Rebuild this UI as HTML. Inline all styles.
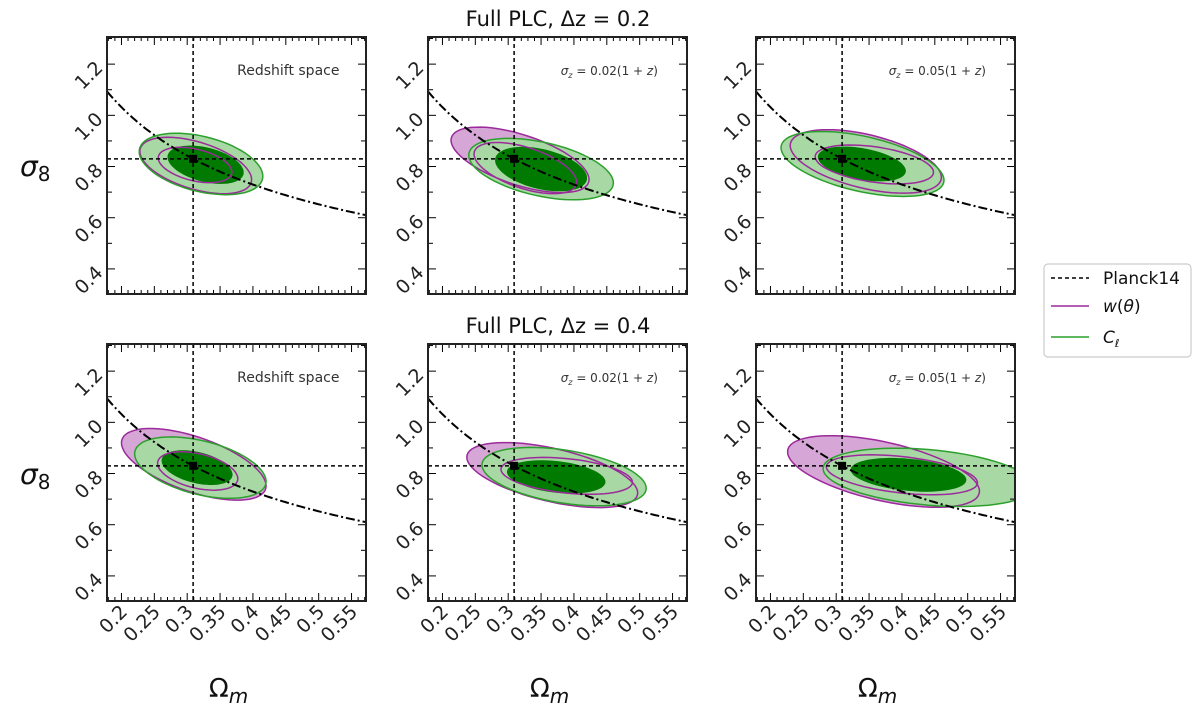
<!DOCTYPE html>
<html><head><meta charset="utf-8">
<style>
html,body{margin:0;padding:0;background:#fff;}
body{width:1200px;height:722px;overflow:hidden;font-family:"Liberation Sans","DejaVu Sans",sans-serif;}
svg text{font-family:"DejaVu Sans","Liberation Sans",sans-serif;}
</style></head>
<body>
<svg id="chart" width="1200" height="722" viewBox="0 0 1200 722"></svg>
<script>
const xDomain = [0.178, 0.572];
const yDomain = [0.302, 1.306];
const xTickLabels = ["0.2","0.25","0.3","0.35","0.4","0.45","0.5","0.55"];
const xTickValues = [0.2,0.25,0.3,0.35,0.4,0.45,0.5,0.55];
const yTickLabels = ["0.4","0.6","0.8","1.0","1.2"];
const yTickValues = [0.4,0.6,0.8,1.0,1.2];
const planckOm = 0.309;
const planckS8 = 0.83;
const degeneracyExponent = -0.5;
const panelLabels = ["Redshift space","σz = 0.02(1 + z)","σz = 0.05(1 + z)","Redshift space","σz = 0.02(1 + z)","σz = 0.05(1 + z)"];
// contour ellipses: [centerOm, centerS8, halfWidthOm, halfHeightS8, correlation]
const wthetaOuter = [[0.313,0.804,0.085,0.110,-0.5],[0.318,0.826,0.105,0.128,-0.6],[0.345,0.820,0.115,0.124,-0.5],[0.310,0.836,0.110,0.140,-0.6],[0.367,0.794,0.130,0.127,-0.55],[0.372,0.808,0.146,0.140,-0.55]];
const wthetaInner = [[0.312,0.806,0.056,0.069,-0.4],[0.326,0.794,0.078,0.100,-0.55],[0.358,0.808,0.090,0.076,-0.4],[0.316,0.810,0.061,0.075,-0.4],[0.389,0.791,0.100,0.072,-0.35],[0.400,0.795,0.115,0.078,-0.4]];
const clOuter = [[0.321,0.810,0.094,0.120,-0.4],[0.350,0.790,0.110,0.120,-0.45],[0.340,0.810,0.124,0.127,-0.5],[0.320,0.823,0.100,0.120,-0.45],[0.385,0.788,0.125,0.114,-0.4],[0.440,0.785,0.160,0.114,-0.3]];
const clInner = [[0.328,0.807,0.058,0.075,-0.4],[0.350,0.790,0.070,0.087,-0.4],[0.339,0.810,0.067,0.068,-0.4],[0.315,0.823,0.054,0.068,-0.4],[0.373,0.787,0.075,0.065,-0.3],[0.410,0.795,0.088,0.066,-0.3]];

const NS="http://www.w3.org/2000/svg";
const svg=document.getElementById('chart');
const colsX=[107,428,756], rowsY=[37,344], PW=259, PH=257;
function mk(tag,attrs,parent){const e=document.createElementNS(NS,tag);for(const k in attrs)e.setAttribute(k,attrs[k]);(parent||svg).appendChild(e);return e;}

const clip=mk('defs',{});
for(let p=0;p<6;p++){
  const r=Math.floor(p/3),c=p%3;
  const x0=colsX[c],y0=rowsY[r];
  const cp=mk('clipPath',{id:'cp'+p},clip);
  mk('rect',{x:x0,y:y0,width:PW,height:PH},cp);
  const sx=v=>x0+(v-xDomain[0])/(xDomain[1]-xDomain[0])*PW;
  const sy=v=>y0+(yDomain[1]-v)/(yDomain[1]-yDomain[0])*PH;
  const g=mk('g',{});
  
  
  const inner=mk('g',{'clip-path':'url(#cp'+p+')'},g);
  function ell(e){let d='';for(let i=0;i<=72;i++){const t=i/72*2*Math.PI;const om=e[0]+e[2]*Math.cos(t);const s=e[1]+e[3]*(e[4]*Math.cos(t)+Math.sqrt(1-e[4]*e[4])*Math.sin(t));d+=(i?'L':'M')+sx(om).toFixed(1)+','+sy(s).toFixed(1);}return d+'Z';}
  let el;
  el=mk('path',{d:ell(wthetaOuter[p]),fill:'#d6a6d6'},inner);
  
  el=mk('path',{d:ell(wthetaInner[p]),fill:'#a040a0'},inner);
  
  el=mk('path',{d:ell(clOuter[p]),fill:'#a8d8a4'},inner);
  
  el=mk('path',{d:ell(clInner[p]),fill:'#007a00'},inner);
  
  el=mk('path',{d:ell(wthetaOuter[p]),fill:'none',stroke:'#9b2a9b','stroke-width':1.5},inner);
  
  el=mk('path',{d:ell(wthetaInner[p]),fill:'none',stroke:'#9b2a9b','stroke-width':1.5},inner);
  
  el=mk('path',{d:ell(clOuter[p]),fill:'none',stroke:'#2ca02c','stroke-width':1.5},inner);
  
  let d='';for(let i=0;i<=80;i++){const om=xDomain[0]+(xDomain[1]-xDomain[0])*i/80;const s=planckS8*Math.pow(om/planckOm,degeneracyExponent);d+=(i?'L':'M')+sx(om).toFixed(1)+','+sy(s).toFixed(1);}
  el=mk('path',{d:d,fill:'none',stroke:'#000','stroke-width':2,'stroke-dasharray':'9,3,2,3'},inner);
  
  el=mk('line',{x1:sx(planckOm),x2:sx(planckOm),y1:y0,y2:y0+PH,stroke:'#000','stroke-width':1.5,'stroke-dasharray':'4,3'},inner);
  
  el=mk('line',{x1:x0,x2:x0+PW,y1:sy(planckS8),y2:sy(planckS8),stroke:'#000','stroke-width':1.5,'stroke-dasharray':'4,3'},inner);
  
  el=mk('rect',{x:sx(planckOm)-4,y:sy(planckS8)-4,width:8,height:8,fill:'#000'},inner);
  
  for(let v=0.18;v<=0.5701;v+=0.01){const vv=Math.round(v*100)/100;const major=Math.abs(vv*20-Math.round(vv*20))<1e-6;const L=major?8:4;const X=sx(vv);
    mk('line',{x1:X,x2:X,y1:y0+PH,y2:y0+PH-L,stroke:'#000','stroke-width':1},g);
    mk('line',{x1:X,x2:X,y1:y0,y2:y0+L,stroke:'#000','stroke-width':1},g);}
  for(let v=0.4;v<=1.3001;v+=0.1){const vv=Math.round(v*10)/10;const major=Math.abs(vv*5-Math.round(vv*5))<1e-6;const L=major?8:5;const Y=sy(vv);
    mk('line',{x1:x0,x2:x0+L,y1:Y,y2:Y,stroke:'#000','stroke-width':1},g);
    mk('line',{x1:x0+PW,x2:x0+PW-L,y1:Y,y2:Y,stroke:'#000','stroke-width':1},g);}
  el=mk('rect',{x:x0,y:y0,width:PW,height:PH,fill:'none',stroke:'#222','stroke-width':2},g);
  
  yTickValues.forEach((v,i)=>{const Y=sy(v);const t=mk('text',{x:x0-8,y:Y+7,'font-size':19,'text-anchor':'end',fill:'#222',transform:'rotate(-45 '+(x0-8)+' '+Y+')'},g);t.textContent=yTickLabels[i];
    });
  if(r===1){xTickValues.forEach((v,i)=>{const X=sx(v)+7,Y=y0+PH+12;const t=mk('text',{x:X,y:Y,'font-size':19,'text-anchor':'end',fill:'#222',transform:'rotate(-45 '+X+' '+Y+')'},g);t.textContent=xTickLabels[i];
    });
    const t=mk('text',{x:x0+PW/2-8,y:697,'font-size':26,'text-anchor':'middle',fill:'#111'},g);
    t.innerHTML='Ω<tspan font-style="italic" font-size="20" dy="6">m</tspan>';
    }
  const a=mk('text',{x:x0+PW*0.70,y:y0+38,'font-size':c===0?14:12,'text-anchor':'middle',fill:'#333'},g);
  if(c===0)a.textContent=panelLabels[p];
  else a.innerHTML='<tspan font-style="italic">σ</tspan><tspan font-size="8" font-style="italic" dy="3">z</tspan><tspan dy="-3"> = '+panelLabels[p].split('= ')[1].replace('z)','')+'</tspan><tspan font-style="italic">z</tspan>)';
  
}
[176,484].forEach(Y=>{const t=mk('text',{x:20,y:Y,'font-size':28,fill:'#111'});t.innerHTML='<tspan font-style="italic">σ</tspan><tspan font-size="20" dy="5">8</tspan>';
  });
[['Full PLC, Δz = 0.2',26],['Full PLC, Δz = 0.4',333]].forEach(q=>{const t=mk('text',{x:558,y:q[1],'font-size':21,'text-anchor':'middle',fill:'#111'});t.textContent=q[0];
  });
const lg=mk('g',{});

mk('rect',{x:1044,y:264,width:147,height:93,rx:4,fill:'#fff',stroke:'#ccc','stroke-width':1.2},lg);
const legendNames=['Planck14','w(θ)','C_ℓ'];
const legendColors=['#000','#9b2a9b','#2ca02c'];
const legendDash=['4,3','',''];
[278,306,337].forEach((Y,i)=>{const e=mk('g',{},lg);
  
  mk('line',{x1:1051,x2:1089,y1:Y,y2:Y,stroke:legendColors[i],'stroke-width':1.6,'stroke-dasharray':legendDash[i]},e);
  const t=mk('text',{x:1103,y:Y+6,'font-size':17,fill:'#111'},e);
  if(i===0)t.textContent=legendNames[0];
  else if(i===1)t.innerHTML='<tspan font-style="italic">w</tspan>(<tspan font-style="italic">θ</tspan>)';
  else t.innerHTML='<tspan font-style="italic">C</tspan><tspan font-style="italic" font-size="11" dy="4">ℓ</tspan>';});
</script>
</body></html>
